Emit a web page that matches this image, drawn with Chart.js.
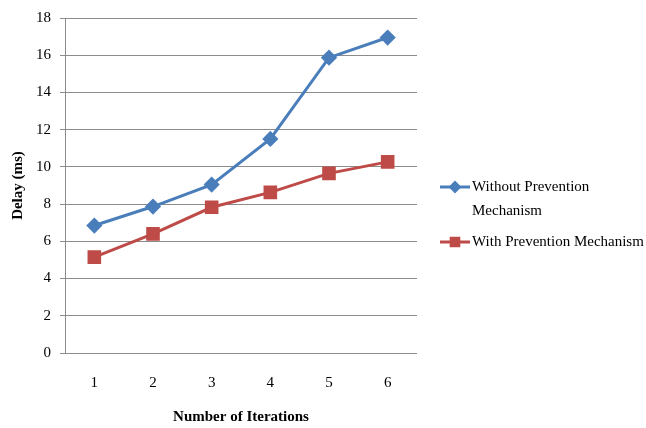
<!DOCTYPE html>
<html>
<head>
<meta charset="utf-8">
<script src="https://cdn.jsdelivr.net/npm/chart.js@4/dist/chart.umd.min.js"></script>
<style>
  html, body { margin: 0; padding: 0; background: #fff; }
  #wrap { width: 646px; height: 428px; position: relative; }
</style>
</head>
<body>
<div id="wrap"><canvas id="c" width="646" height="428"></canvas></div>
<script>
// Iteration numbers along the x axis
const iterations = ['1', '2', '3', '4', '5', '6'];
// Delay in milliseconds for each iteration
const delayWithout = [6.85, 7.87, 9.05, 11.5, 15.87, 16.95];
const delayWith = [5.15, 6.4, 7.83, 8.63, 9.65, 10.27];
const seriesNames = ['Without Prevention Mechanism', 'With Prevention Mechanism'];

const FONT = "'Liberation Serif', 'Times New Roman', serif";
const GRID = '#8c8c8c';

// Legend drawn to the right of the plot, wrapping long labels
const sideLegend = {
  id: 'sideLegend',
  afterDraw(chart) {
    const ctx = chart.ctx;
    const x0 = 440, lineLen = 30, textX = 472, maxW = 172, lineH = 24;
    let y = 187;
    ctx.save();
    ctx.font = "15px " + FONT;
    ctx.textBaseline = 'middle';
    ctx.textAlign = 'left';
    chart.data.datasets.forEach((ds) => {
      // line sample with a smaller marker
      ctx.strokeStyle = ds.borderColor;
      ctx.lineWidth = 3;
      ctx.beginPath();
      ctx.moveTo(x0, y);
      ctx.lineTo(x0 + lineLen, y);
      ctx.stroke();
      Chart.helpers.drawPoint(ctx, {
        pointStyle: ds.pointStyle,
        radius: ds.pointRadius * 0.72,
        rotation: 0,
        borderWidth: 1
      }, x0 + lineLen / 2, y);
      ctx.fillStyle = ds.backgroundColor;
      ctx.fill();
      // wrapped text
      const words = ds.label.split(' ');
      const lines = [];
      let cur = '';
      words.forEach((w) => {
        const test = cur ? cur + ' ' + w : w;
        if (ctx.measureText(test).width > maxW && cur) {
          lines.push(cur);
          cur = w;
        } else {
          cur = test;
        }
      });
      lines.push(cur);
      ctx.fillStyle = '#000';
      lines.forEach((ln, i) => ctx.fillText(ln, textX, y + i * lineH));
      y += lines.length * lineH + 7;
    });
    ctx.restore();
  }
};

new Chart(document.getElementById('c'), {
  type: 'line',
  data: {
    labels: iterations,
    datasets: [
      {
        label: seriesNames[0],
        data: delayWithout,
        borderColor: '#4a7ebb',
        backgroundColor: '#4a7ebb',
        pointBackgroundColor: '#4a7ebb',
        pointBorderColor: '#4a7ebb',
        borderWidth: 3,
        pointStyle: 'rectRot',
        pointRadius: 6,
        tension: 0
      },
      {
        label: seriesNames[1],
        data: delayWith,
        borderColor: '#be4b48',
        backgroundColor: '#be4b48',
        pointBackgroundColor: '#be4b48',
        pointBorderColor: '#be4b48',
        borderWidth: 3,
        pointStyle: 'rect',
        pointRadius: 7.5,
        tension: 0
      }
    ]
  },
  options: {
    responsive: false,
    animation: false,
    layout: { padding: { top: 16, right: 229, left: 0, bottom: 0 } },
    plugins: {
      legend: { display: false },
      tooltip: { enabled: false }
    },
    scales: {
      x: {
        type: 'category',
        offset: true,
        grid: { display: false, drawTicks: false },
        border: { display: false },
        ticks: {
          color: '#000',
          font: { family: FONT, size: 15 },
          padding: 21,
          maxRotation: 0
        },
        title: {
          display: true,
          text: 'Number of Iterations',
          color: '#000',
          font: { family: FONT, size: 15, weight: 'bold' },
          padding: { top: 0, bottom: 2 }
        },
        afterFit(scale) { scale.height = 75; }
      },
      y: {
        min: 0,
        max: 18,
        ticks: {
          stepSize: 2,
          color: '#000',
          font: { family: FONT, size: 15 },
          padding: 9
        },
        grid: { color: GRID, lineWidth: 1, tickLength: 5, tickColor: GRID },
        border: { display: true, color: GRID, width: 1 },
        title: {
          display: true,
          text: 'Delay (ms)',
          color: '#000',
          font: { family: FONT, size: 15, weight: 'bold' },
          padding: { top: 9, bottom: 0 }
        },
        afterFit(scale) { scale.width = 65; }
      }
    }
  },
  plugins: [sideLegend]
});
</script>
</body>
</html>
